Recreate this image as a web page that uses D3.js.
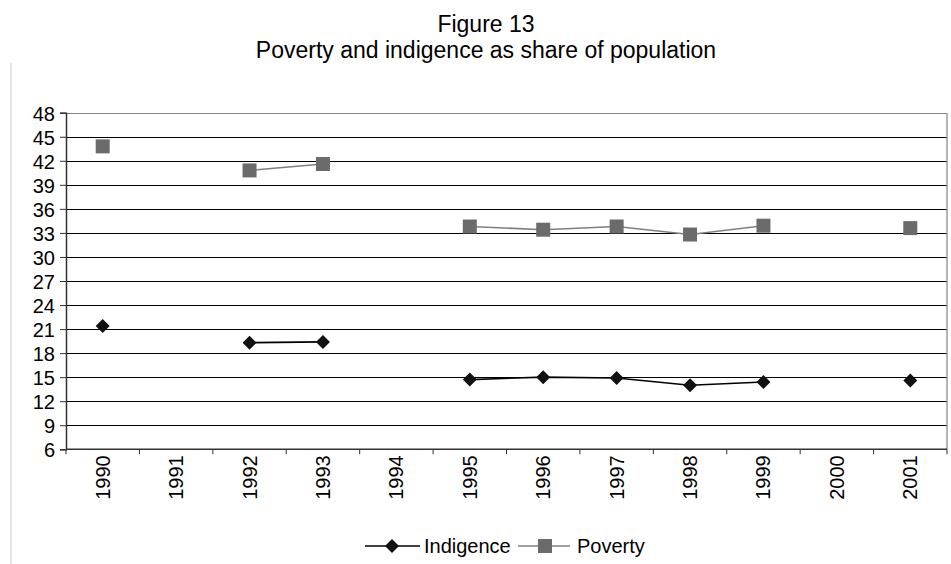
<!DOCTYPE html>
<html>
<head>
<meta charset="utf-8">
<script src="https://cdn.jsdelivr.net/npm/d3@7"></script>
<style>
  html, body { margin: 0; padding: 0; background: #fff; }
  svg { display: block; font-family: "Liberation Sans", Arial, sans-serif; }
</style>
</head>
<body>
<svg id="chart" width="951" height="564"></svg>
<script>
const years = ["1990","1991","1992","1993","1994","1995","1996","1997","1998","1999","2000","2001"];
const indigence = [21.4, null, 19.3, 19.4, null, 14.7, 15.0, 14.9, 14.0, 14.4, null, 14.6];
const poverty   = [43.8, null, 40.8, 41.6, null, 33.8, 33.4, 33.8, 32.8, 33.9, null, 33.6];
const yTicks = [6, 9, 12, 15, 18, 21, 24, 27, 30, 33, 36, 39, 42, 45, 48];
const titleLines = ["Figure 13", "Poverty and indigence as share of population"];
const seriesNames = ["Indigence", "Poverty"];

const svg = d3.select("#chart");
const pLeft = 66, pRight = 947, pTop = 112.7, pBottom = 449.3;

const x = d3.scaleBand().domain(years).range([pLeft, pRight]);
const y = d3.scaleLinear().domain([6, 48]).range([pBottom, pTop]);

// outer frame line at left
svg.append("line").attr("x1", 11).attr("x2", 11).attr("y1", 63).attr("y2", 564)
  .attr("stroke", "#c8c8c8").attr("stroke-width", 1);

// title
svg.append("g").selectAll("text").data(titleLines).enter().append("text")
  .attr("x", 486).attr("y", (d, i) => 32 + i * 26)
  .attr("text-anchor", "middle").attr("font-size", 23).attr("fill", "#000")
  .text(d => d);

// gridlines
svg.append("g").selectAll("line").data(yTicks.filter(t => t !== 48 && t !== 6)).enter().append("line")
  .attr("x1", pLeft).attr("x2", pRight)
  .attr("y1", d => Math.round(y(d)) + 0.5).attr("y2", d => Math.round(y(d)) + 0.5)
  .attr("stroke", "#000").attr("stroke-width", 1);

// top & right border (gray)
svg.append("path")
  .attr("d", `M${pLeft},${Math.round(pTop)+0.5}H${pRight}V${pBottom}`)
  .attr("fill", "none").attr("stroke", "#858585").attr("stroke-width", 1.2);

// y axis
const yAxis = svg.append("g").attr("transform", `translate(${pLeft},0)`)
  .call(d3.axisLeft(y).tickValues(yTicks).tickSize(6).tickPadding(5).tickFormat(d3.format("d")));
yAxis.select(".domain").attr("stroke", "#333").attr("stroke-width", 1.5);
yAxis.selectAll(".tick line").attr("stroke", "#333");
yAxis.selectAll("text").attr("font-size", 20).attr("fill", "#000").attr("font-family", "Liberation Sans, Arial, sans-serif").attr("dy", "0.38em");

// x axis with ticks at category boundaries
const xg = svg.append("g");
xg.append("line").attr("x1", pLeft).attr("x2", pRight).attr("y1", pBottom).attr("y2", pBottom)
  .attr("stroke", "#333").attr("stroke-width", 1.5);
const bounds = years.map(d => x(d)).concat([pRight]);
xg.selectAll("line.tk").data(bounds).enter().append("line").attr("class", "tk")
  .attr("x1", d => d).attr("x2", d => d).attr("y1", pBottom).attr("y2", pBottom + 5)
  .attr("stroke", "#333").attr("stroke-width", 1);
xg.selectAll("text").data(years).enter().append("text")
  .attr("transform", d => `translate(${x(d) + x.bandwidth() / 2 + 7},${pBottom + 6}) rotate(-90)`)
  .attr("text-anchor", "end").attr("font-size", 20).attr("fill", "#000")
  .text(d => d);

// series
const cx = i => x(years[i]) + x.bandwidth() / 2;
const line = d3.line().defined(d => d != null).x((d, i) => cx(i)).y(d => y(d));

svg.append("path").datum(poverty).attr("d", line)
  .attr("fill", "none").attr("stroke", "#7f7f7f").attr("stroke-width", 1.6);
svg.append("path").datum(indigence).attr("d", line)
  .attr("fill", "none").attr("stroke", "#000").attr("stroke-width", 1.6);

const sq = 14;
svg.append("g").selectAll("rect").data(poverty.map((v, i) => ({v, i})).filter(d => d.v != null))
  .enter().append("rect")
  .attr("x", d => cx(d.i) - sq / 2).attr("y", d => y(d.v) - sq / 2)
  .attr("width", sq).attr("height", sq).attr("fill", "#6b6b6b");

const diamond = "M0,-7L7,0L0,7L-7,0Z";
svg.append("g").selectAll("path").data(indigence.map((v, i) => ({v, i})).filter(d => d.v != null))
  .enter().append("path")
  .attr("transform", d => `translate(${cx(d.i)},${y(d.v)})`)
  .attr("d", diamond).attr("fill", "#111");

// legend
const lg = svg.append("g");
const ly = 546;
lg.append("line").attr("x1", 365).attr("x2", 420).attr("y1", ly).attr("y2", ly).attr("stroke", "#000").attr("stroke-width", 1.6);
lg.append("path").attr("transform", `translate(392,${ly})`).attr("d", diamond).attr("fill", "#111");
lg.append("text").attr("x", 424).attr("y", ly + 7).attr("font-size", 20).attr("fill", "#000").text(seriesNames[0]);
lg.append("line").attr("x1", 518).attr("x2", 570).attr("y1", ly).attr("y2", ly).attr("stroke", "#7f7f7f").attr("stroke-width", 1.6);
lg.append("rect").attr("x", 545 - sq / 2).attr("y", ly - sq / 2).attr("width", sq).attr("height", sq).attr("fill", "#6b6b6b");
lg.append("text").attr("x", 577).attr("y", ly + 7).attr("font-size", 20).attr("fill", "#000").text(seriesNames[1]);
</script>
</body>
</html>
